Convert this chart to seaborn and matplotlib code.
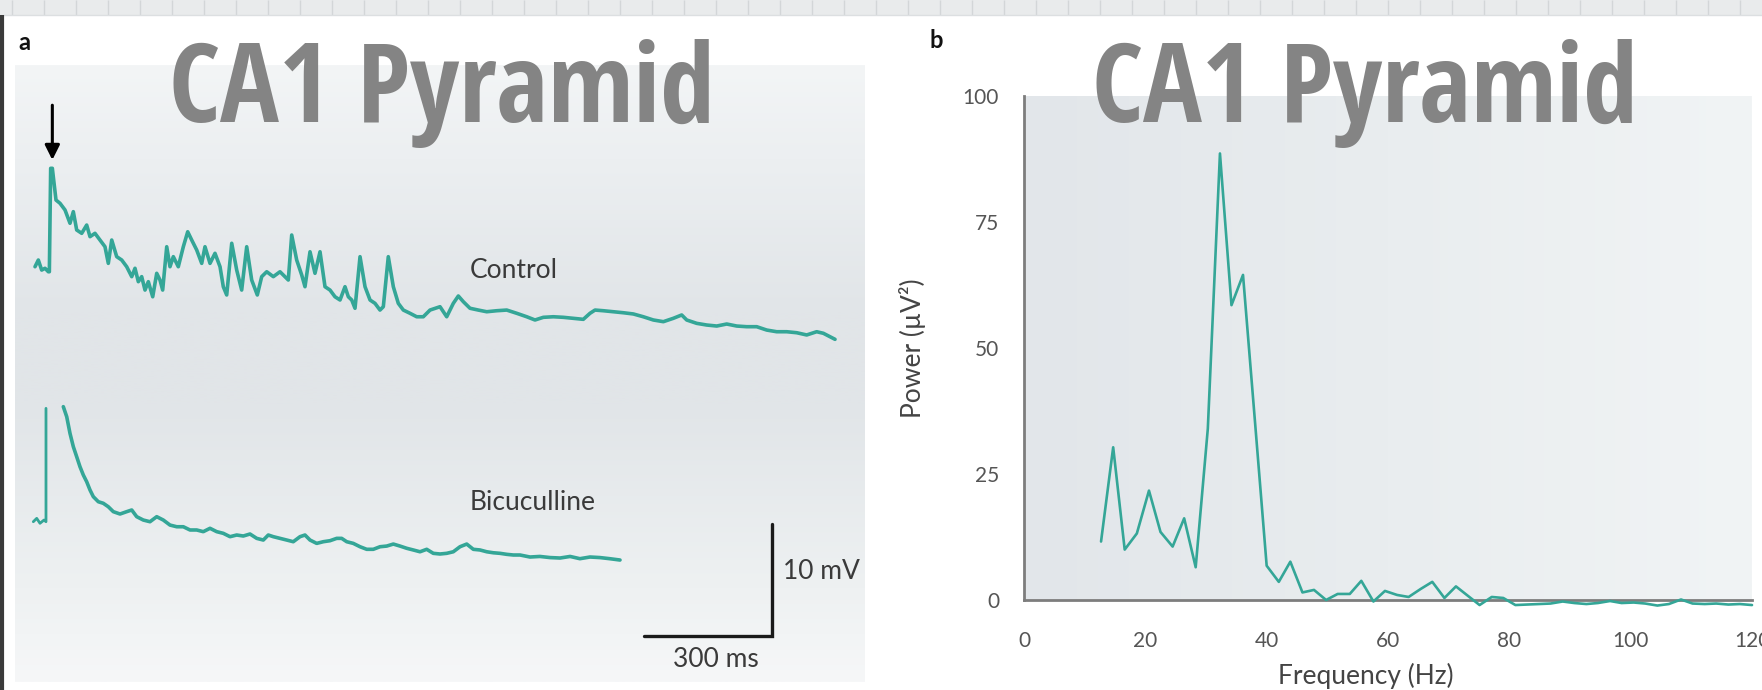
import numpy as np
import pandas as pd
import matplotlib
matplotlib.use("Agg")
import matplotlib.pyplot as plt
import seaborn as sns
from matplotlib.colors import LinearSegmentedColormap
from matplotlib import font_manager as fm
from matplotlib.textpath import TextPath
from matplotlib.ft2font import FT2Font

# ---------------- data ----------------
# Panel a: membrane potential traces (time in ms, voltage in mV, arbitrary offset)
control_t = [0, 7.8, 15.7, 23.5, 31.3, 33.7, 36.8, 40.7, 43.0, 49.3, 58.7, 70.5, 82.2, 90.0, 97.9,
             109.7, 121.4, 129.2, 140.9, 152.7, 164.4, 172.2, 180.2, 191.9, 203.7, 215.4, 227.2,
             234.9, 242.7, 250.6, 258.4, 266.2, 276.5, 285.9, 293.6, 299.9, 309.4, 317.1, 324.9,
             336.6, 348.4, 358.7, 368.1, 379.8, 391.6, 399.3, 411.1, 422.8, 434.6, 442.3, 450.3,
             462.1, 473.8, 485.5, 497.3, 509.0, 522.2, 532.5, 544.3, 559.8, 575.5, 587.3, 595.0,
             603.0, 614.7, 626.5, 634.2, 646.0, 657.7, 669.5, 681.2, 693.0, 704.7, 716.5, 728.2,
             736.0, 744.0, 751.7, 763.5, 775.2, 787.0, 798.7, 810.4, 818.2, 829.9, 841.7, 853.4,
             865.2, 880.9, 896.6, 912.1, 927.9, 951.4, 967.1, 982.6, 994.4, 1006.1, 1021.8, 1041.3,
             1061.1, 1084.6, 1108.1, 1131.6, 1155.1, 1174.5, 1194.1, 1217.6, 1241.1, 1264.6,
             1288.0, 1303.7, 1315.5, 1335.0, 1358.5, 1382.0, 1405.5, 1429.0, 1452.5, 1476.0,
             1499.4, 1519.1, 1530.9, 1554.4, 1577.9, 1601.4, 1624.9, 1648.3, 1671.8, 1695.3,
             1718.8, 1742.3, 1765.8, 1789.3, 1812.7, 1836.2, 1851.9, 1867.6, 1879.3]
control_v = [29.84, 30.44, 29.54, 29.70, 29.39, 29.39, 38.65, 38.65, 37.90, 35.81, 35.52, 34.92,
             33.73, 34.77, 33.13, 32.83, 33.57, 32.53, 32.83, 32.23, 31.63, 30.14, 32.23, 30.74,
             30.44, 29.84, 28.95, 29.70, 28.50, 28.95, 27.75, 28.50, 27.15, 29.25, 28.65, 27.75,
             31.63, 29.84, 30.74, 29.84, 31.63, 32.97, 32.23, 31.34, 30.14, 31.63, 30.14, 31.04,
             29.84, 28.05, 27.31, 31.94, 29.54, 27.75, 31.63, 28.65, 27.31, 28.95, 29.39, 28.95,
             29.39, 28.95, 28.65, 32.68, 30.44, 29.10, 28.05, 31.18, 29.25, 31.18, 28.05, 27.75,
             27.15, 26.86, 28.05, 27.15, 26.86, 26.12, 30.74, 28.05, 26.86, 26.56, 25.96, 26.26,
             30.74, 28.05, 26.56, 25.96, 25.67, 25.36, 25.36, 25.96, 26.26, 25.36, 26.56, 27.22,
             26.71, 26.12, 25.96, 25.81, 25.90, 25.96, 25.67, 25.36, 25.07, 25.31, 25.36, 25.31,
             25.22, 25.13, 25.67, 25.96, 25.90, 25.81, 25.72, 25.61, 25.36, 25.07, 24.92, 25.22,
             25.52, 25.07, 24.77, 24.62, 24.53, 24.71, 24.53, 24.47, 24.47, 24.17, 24.02, 24.02,
             23.93, 23.73, 24.02, 23.88, 23.57, 23.34]

bic_stim_t = [-4.0, 4.0, 11.7, 21.1, 25.8, 25.8]
bic_stim_v = [7.01, 7.31, 6.87, 7.16, 7.01, 17.16]

bic_t = [66.5, 74.5, 82.2, 90.0, 97.9, 105.7, 113.5, 121.4, 129.2, 137.0, 148.7, 160.4, 172.2,
         183.9, 199.7, 215.4, 227.2, 238.9, 254.4, 270.1, 285.9, 301.4, 317.1, 332.9, 348.4,
         364.1, 379.8, 395.3, 411.1, 426.8, 442.3, 458.1, 473.8, 489.3, 505.0, 520.8, 536.3,
         548.0, 559.8, 575.5, 591.2, 606.7, 622.5, 634.2, 646.0, 661.7, 677.2, 693.0, 708.7,
         720.4, 732.2, 747.7, 763.5, 779.2, 794.7, 810.4, 826.2, 841.7, 857.4, 873.2, 888.6,
         904.4, 920.1, 935.6, 951.4, 967.1, 982.6, 998.3, 1014.1, 1029.6, 1045.3, 1061.1,
         1076.6, 1092.3, 1108.1, 1123.6, 1139.3, 1162.8, 1186.0, 1210.0, 1233.3, 1257.0,
         1280.0, 1303.7, 1327.0, 1350.0, 1374.2]
bic_v = [17.31, 16.41, 14.92, 13.73, 12.83, 11.93, 11.19, 10.59, 9.85, 9.25, 8.80, 8.66, 8.35,
         7.91, 7.70, 7.91, 8.06, 7.46, 7.16, 7.01, 7.46, 7.16, 6.71, 6.56, 6.56, 6.27, 6.27,
         6.12, 6.42, 6.12, 5.97, 5.67, 5.82, 5.73, 5.91, 5.52, 5.37, 5.82, 5.67, 5.52, 5.37,
         5.22, 5.67, 5.82, 5.37, 5.07, 5.22, 5.31, 5.52, 5.52, 5.22, 5.07, 4.77, 4.54, 4.54,
         4.77, 4.83, 5.01, 4.83, 4.63, 4.48, 4.32, 4.54, 4.18, 4.12, 4.18, 4.32, 4.77, 5.01,
         4.54, 4.48, 4.32, 4.23, 4.18, 4.09, 4.03, 4.03, 3.85, 3.90, 3.80, 3.76, 3.90, 3.70,
         3.85, 3.80, 3.70, 3.58]

scalebar_ms = 300
scalebar_mv = 10

# Panel b: power spectrum
freq_hz = [12.7, 14.7, 16.6, 18.6, 20.6, 22.5, 24.5, 26.4, 28.3, 30.3, 32.3, 34.2, 36.1, 38.1,
           40.0, 42.0, 43.9, 45.9, 47.8, 49.8, 51.7, 53.7, 55.6, 57.6, 59.5, 61.5, 63.4, 65.4,
           67.3, 69.3, 71.2, 73.2, 75.1, 77.1, 79.0, 81.0, 82.9, 84.9, 86.8, 88.8, 90.7, 92.7,
           94.6, 96.6, 98.5, 100.5, 102.4, 104.4, 106.3, 108.3, 110.2, 112.2, 114.1, 116.1,
           118.0, 120.0]
power = [11.6, 30.3, 10.0, 13.2, 21.7, 13.5, 10.6, 16.2, 6.5, 34.0, 88.6, 58.5, 64.5, 35.0,
         6.8, 3.6, 7.6, 1.5, 2.0, 0.0, 1.2, 1.2, 3.8, -0.3, 1.8, 1.0, 0.6, 2.2, 3.6, 0.4, 2.7,
         0.8, -1.0, 0.6, 0.4, -1.0, -0.9, -0.8, -0.7, -0.3, -0.6, -0.8, -0.6, -0.2, -0.6, -0.5,
         -0.7, -1.1, -0.8, 0.1, -0.7, -0.8, -0.7, -0.9, -0.8, -1.0]
x_ticks = [0, 20, 40, 60, 80, 100, 120]
y_ticks = [0, 25, 50, 75, 100]

title_text = "CA1 Pyramid"

# ---------------- style ----------------
sns.set_theme(style="white")
plt.rcParams["font.family"] = ["Lato", "DejaVu Sans"]

TEAL = "#34a697"
W, H = 1762, 690
DPI = 100

ALLOWED = ("Liberation Sans", "Roboto", "Open Sans", "Noto Sans", "DejaVu Sans", "Lato", "Inter")
EXCLUDED = ("Mono", "CJK", "Symbol", "Math", "Display")


def title_font():
    """Pick the narrowest bold upright text font (full glyph coverage) for the big titles."""
    best, best_w = None, None
    needed = {ord(c) for c in title_text if c != " "}
    for f in fm.fontManager.ttflist:
        name = f.name
        fn = f.fname.lower()
        if not name.startswith(ALLOWED) or any(x in name for x in EXCLUDED):
            continue
        if f.style != "normal" or "italic" in fn or "oblique" in fn:
            continue
        w = f.weight if isinstance(f.weight, int) else {"bold": 700, "heavy": 800, "black": 900,
                                                         "semibold": 600, "demibold": 600}.get(str(f.weight), 400)
        if w < 600 or w > 800:
            continue
        try:
            cmap = FT2Font(f.fname).get_charmap()
            if not needed.issubset(cmap.keys()):
                continue
            prop = fm.FontProperties(fname=f.fname)
            ext = TextPath((0, 0), title_text, size=100, prop=prop).get_extents()
        except Exception:
            continue
        if ext.width <= 0:
            continue
        if best_w is None or ext.width < best_w:
            best, best_w = prop, ext.width
    if best is None:
        best = fm.FontProperties(family="DejaVu Sans", weight="bold")
    return best


tprop = title_font()
ext_all = TextPath((0, 0), title_text, size=100, prop=tprop).get_extents()
ext_cap = TextPath((0, 0), "CA1", size=100, prop=tprop).get_extents()
target_w, target_cap = 535.0, 90.0
fs_w = target_w * 72.0 / ext_all.width
fs_h = target_cap * 72.0 / ext_cap.height
title_fs = min(fs_w, fs_h)

fig = plt.figure(figsize=(W / DPI, H / DPI), dpi=DPI)
fig.patch.set_facecolor("white")

# decorative background (pixel coordinates)
bg = fig.add_axes([0, 0, 1, 1], zorder=-10)
bg.set_xlim(0, W)
bg.set_ylim(H, 0)
bg.axis("off")
bg.axhspan(0, 15, color="#e9ebec", lw=0)
bg.vlines(np.arange(12, W, 32), 0, 15, color="#d3d6d8", lw=1)
bg.axhline(15, color="#dcdfe1", lw=1)
bg.vlines([1.5], 15, H, color="#3a3a3a", lw=3)

# ---------------- panel a ----------------
ax_a = fig.add_axes([15 / W, 8 / H, 850 / W, 617 / H], zorder=1)
xa = (-47.0, 1949.7)
ya = (-7.34, 47.9)
grad_a = LinearSegmentedColormap.from_list(
    "ga", [(0.0, "#f6f7f8"), (0.15, "#eef1f2"), (0.45, "#e1e5e8"), (0.6, "#e1e5e8"),
           (0.85, "#eceff1"), (1.0, "#f3f5f6")])
ax_a.imshow(np.linspace(0, 1, 256).reshape(-1, 1), extent=(*xa, *ya), aspect="auto",
            cmap=grad_a, origin="lower", zorder=0)
sns.lineplot(x=control_t, y=control_v, ax=ax_a, color=TEAL, lw=2.6, estimator=None, sort=False)
sns.lineplot(x=bic_stim_t, y=bic_stim_v, ax=ax_a, color=TEAL, lw=2.0, estimator=None, sort=False)
sns.lineplot(x=bic_t, y=bic_v, ax=ax_a, color=TEAL, lw=2.6, estimator=None, sort=False)
ax_a.set_xlim(*xa)
ax_a.set_ylim(*ya)
ax_a.axis("off")

txt_kw = dict(color="#3a3a3a", fontsize=19, family=["Lato", "DejaVu Sans"])
ax_a.text(1021.8, 29.5, "Control", ha="left", va="center", **txt_kw)
ax_a.text(1021.8, 8.7, "Bicuculline", ha="left", va="center", **txt_kw)

# scale bar
sb_x1, sb_y0 = 1730.5, -3.22
ax_a.plot([sb_x1 - scalebar_ms, sb_x1, sb_x1], [sb_y0, sb_y0, sb_y0 + scalebar_mv],
          color="#1a1a1a", lw=2.4, solid_joinstyle="miter")
ax_a.text(sb_x1 - scalebar_ms / 2 + 20, sb_y0 - 2.1, f"{scalebar_ms} ms", ha="center", va="center", **txt_kw)
ax_a.text(sb_x1 + 27, sb_y0 + scalebar_mv * 0.58, f"{scalebar_mv} mV", ha="left", va="center", **txt_kw)

# stimulus arrow
ax_a.annotate("", xy=(40.7, 39.4), xytext=(40.7, 44.3),
              arrowprops=dict(arrowstyle="-|>", color="black", lw=2.2, mutation_scale=22,
                              shrinkA=0, shrinkB=0))

# ---------------- panel b ----------------
ax_b = fig.add_axes([1024 / W, 90 / H, 728 / W, 504 / H], zorder=1)
grad_b = LinearSegmentedColormap.from_list("gb", ["#e2e6ea", "#e9edef", "#f1f4f5"])
ax_b.imshow(np.linspace(0, 1, 256).reshape(1, -1), extent=(0, 120, 0, 100), aspect="auto",
            cmap=grad_b, origin="lower", zorder=0)
sns.lineplot(x=freq_hz, y=power, ax=ax_b, color=TEAL, lw=1.9, estimator=None, sort=False)
for ln in ax_b.lines:
    ln.set_clip_on(False)
    ln.set_zorder(3)
ax_b.set_xlim(0, 120)
ax_b.set_ylim(0, 100)
ax_b.set_xticks(x_ticks)
ax_b.set_yticks(y_ticks)
sns.despine(ax=ax_b)
for s in ("left", "bottom"):
    ax_b.spines[s].set_color("#7d7d7d")
    ax_b.spines[s].set_linewidth(2)
ax_b.tick_params(axis="both", direction="out", length=8, width=1.5, color="#7d7d7d",
                 labelcolor="#555555", labelsize=15, pad=10)
ax_b.tick_params(axis="x", pad=14)
ax_b.set_xlabel("Frequency (Hz)", fontsize=19, color="#444444")
ax_b.set_ylabel("Power (µV²)", fontsize=19, color="#444444")
ax_b.xaxis.set_label_coords(0.47, -0.125)
ax_b.yaxis.set_label_coords(-0.135, 0.5)
ax_b.grid(False)

# ---------------- titles / panel letters ----------------
title_kw = dict(ha="center", va="baseline", color="#848484", fontproperties=tprop, zorder=10)
t1 = fig.text(442 / W, 1 - 122 / H, title_text, **title_kw)
t2 = fig.text(1365 / W, 1 - 122 / H, title_text, **title_kw)
for t in (t1, t2):
    t.set_fontsize(title_fs)
fig.text(24 / W, 1 - 42 / H, "a", ha="center", va="center", fontsize=17, weight="bold", color="#111111")
fig.text(936 / W, 1 - 40 / H, "b", ha="center", va="center", fontsize=17, weight="bold", color="#111111")

fig.savefig("out.png", dpi=DPI)
